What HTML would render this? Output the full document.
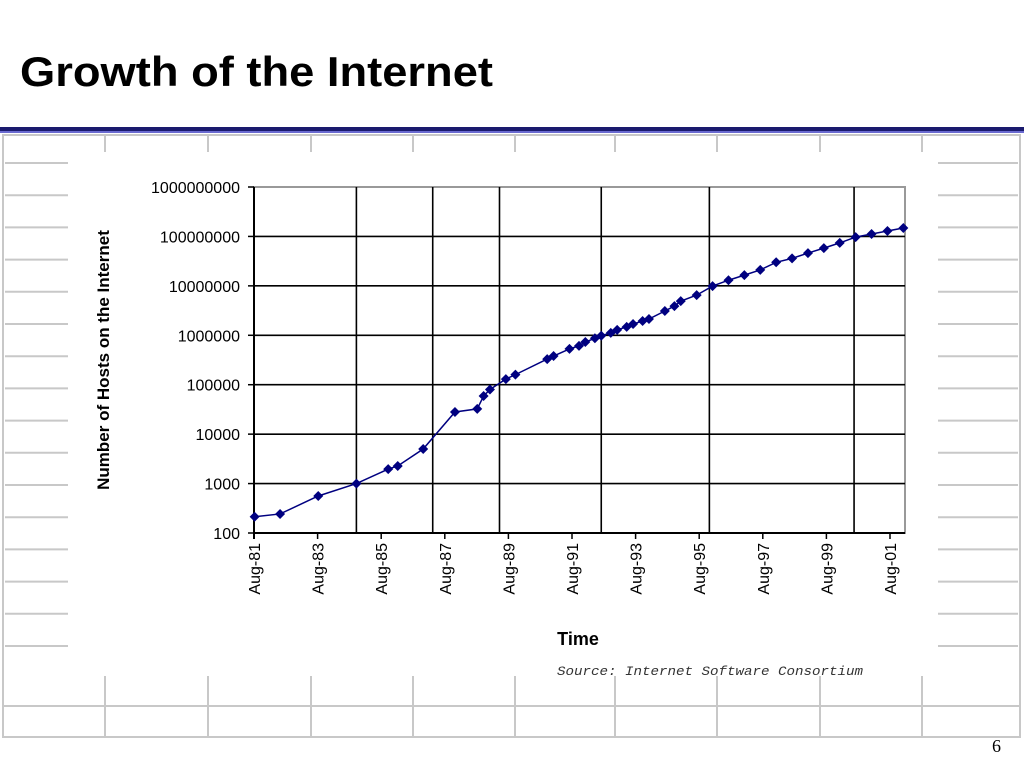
<!DOCTYPE html>
<html><head><meta charset="utf-8"><style>
body{margin:0;width:1024px;height:768px;background:#fff;overflow:hidden;font-family:"Liberation Sans",sans-serif;}
</style></head><body>
<svg width="1024" height="768" viewBox="0 0 1024 768" xmlns="http://www.w3.org/2000/svg">
<text x="20" y="86" font-family="Liberation Sans, sans-serif" font-weight="bold" font-size="42" textLength="473" lengthAdjust="spacingAndGlyphs" fill="#000">Growth of the Internet</text>
<rect x="0" y="127" width="1024" height="6" fill="#1a1a6e"/>
<rect x="0" y="131" width="1024" height="2" fill="#6a6ad0"/>
<g id="bg" stroke="#c8c8c8" stroke-width="2" fill="none"></g>
<g id="chart"></g>
<text x="992" y="752" font-family="Liberation Serif, serif" font-size="18" fill="#000">6</text>
</svg>
<script>
const dates=[1981.6,1982.4,1983.6,1984.8,1985.8,1986.1,1986.9,1987.9,1988.6,1988.8,1989.0,1989.5,1989.8,1990.8,1991.0,1991.5,1991.8,1992.0,1992.3,1992.5,1992.8,1993.0,1993.3,1993.5,1993.8,1994.0,1994.5,1994.8,1995.0,1995.5,1996.0,1996.5,1997.0,1997.5,1998.0,1998.5,1999.0,1999.5,2000.0,2000.5,2001.0,2001.5,2002.0];
const hosts=[213,243,561,1000,1961,2270,5000,28100,32400,59000,80000,130000,160000,330000,380000,530000,610000,730000,870000,980000,1120000,1290000,1480000,1690000,1940000,2130000,3100000,3900000,4900000,6500000,9900000,13000000,16500000,21000000,30000000,36000000,46000000,58000000,74000000,97000000,112000000,129000000,148000000];
const yTicks=[100,1000,10000,100000,1000000,10000000,100000000,1000000000];
const xTicks=[1981.58,1983.58,1985.58,1987.58,1989.58,1991.58,1993.58,1995.58,1997.58,1999.58,2001.58];
const xTickLabels=["Aug-81","Aug-83","Aug-85","Aug-87","Aug-89","Aug-91","Aug-93","Aug-95","Aug-97","Aug-99","Aug-01"];
const xGrid=[1984.8,1987.2,1989.3,1992.5,1995.9,2000.45];
const NS="http://www.w3.org/2000/svg";
const L=254,R=905,T=187,B=533;
const xs=t=>L+(t-1981.58)*31.8;
const ys=v=>B-(Math.log10(v)-2)*(B-T)/7;
function mk(tag,at,parent){const e=document.createElementNS(NS,tag);for(const k in at)e.setAttribute(k,at[k]);parent.appendChild(e);return e;}
const bg=document.getElementById('bg');
let e;
e=mk('rect',{x:3,y:135,width:1017,height:602},bg);


for(let y=163;y<=650;y+=32.2){
 e=mk('line',{x1:5,y1:y,x2:68,y2:y},bg);
 
 
 e=mk('line',{x1:938,y1:y,x2:1018,y2:y},bg);
 
 
}
[105,208,311,413,515,615,717,820,922].forEach(x=>{
 e=mk('line',{x1:x,y1:136,x2:x,y2:152},bg);
 
 
 e=mk('line',{x1:x,y1:676,x2:x,y2:737},bg);
 
 
});
e=mk('line',{x1:3,y1:706,x2:1020,y2:706},bg);


const c=document.getElementById('chart');
e=mk('rect',{x:L,y:T,width:R-L,height:B-T,fill:'#fff',stroke:'#999','stroke-width':2},c);


yTicks.forEach(v=>{
 const y=ys(v);
 if(v>100&&v<1e9){e=mk('line',{x1:L,y1:y,x2:R,y2:y,stroke:'#000','stroke-width':1.6},c);
 
 }
 e=mk('line',{x1:L-6,y1:y,x2:L,y2:y,stroke:'#000','stroke-width':1.5},c);
 
 
 e=mk('text',{x:L-14,y:y+6,'text-anchor':'end','font-size':16,fill:'#000'},c);
 e.textContent=String(v);
 
 
});
xGrid.forEach(t=>{
 e=mk('line',{x1:xs(t),y1:T,x2:xs(t),y2:B,stroke:'#000','stroke-width':1.6},c);
 
 
});
e=mk('line',{x1:L,y1:T,x2:L,y2:B+6,stroke:'#000','stroke-width':2},c);


e=mk('line',{x1:L,y1:B,x2:R,y2:B,stroke:'#000','stroke-width':2},c);


xTicks.forEach((t,i)=>{
 const x=xs(t);
 e=mk('line',{x1:x,y1:B,x2:x,y2:B+6,stroke:'#000','stroke-width':1.5},c);
 
 
 e=mk('text',{x:x+6,y:B+10,'text-anchor':'end','font-size':16,fill:'#000',transform:`rotate(-90 ${x+6} ${B+10})`},c);
 e.textContent=xTickLabels[i];
 
 
});
e=mk('polyline',{points:dates.map((t,i)=>xs(t)+','+ys(hosts[i])).join(' '),fill:'none',stroke:'#000080','stroke-width':1.5},c);


dates.forEach((t,i)=>{
 const x=xs(t),y=ys(hosts[i]);
 e=mk('polygon',{points:`${x},${y-5} ${x+5},${y} ${x},${y+5} ${x-5},${y}`,fill:'#000080'},c);
 
 
});
e=mk('text',{x:109,y:360,'text-anchor':'middle','font-size':17,'font-weight':'bold',fill:'#000',transform:'rotate(-90 109 360)'},c);
e.textContent='Number of Hosts on the Internet';


e=mk('text',{x:578,y:645,'text-anchor':'middle','font-size':18,'font-weight':'bold',fill:'#000'},c);
e.textContent='Time';


e=mk('text',{x:557,y:675,'font-size':12.5,'font-style':'italic','font-family':'Liberation Mono, monospace',fill:'#333',textLength:306,lengthAdjust:'spacingAndGlyphs'},c);
e.textContent='Source: Internet Software Consortium';


</script>
</body></html>
